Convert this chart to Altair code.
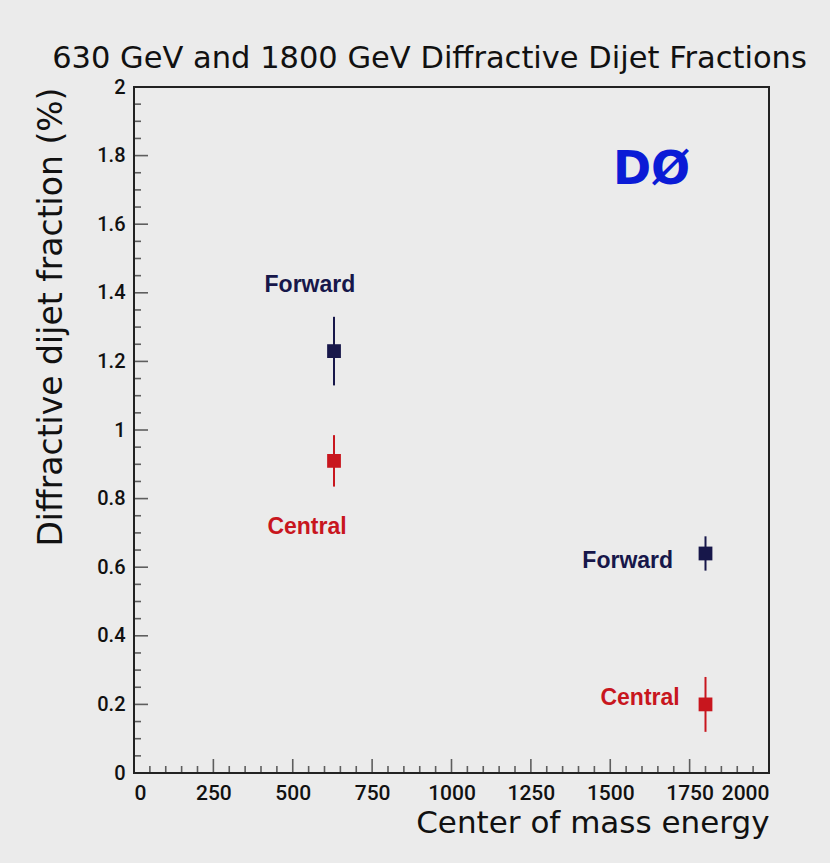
import altair as alt
import pandas as pd

# Measured diffractive dijet fractions (%) at two centre-of-mass energies
energy = [630, 630, 1800, 1800]
region = ["Forward", "Central", "Forward", "Central"]
fraction = [1.23, 0.91, 0.64, 0.20]
error = [0.10, 0.075, 0.05, 0.08]

# Text annotations naming each point (data coordinates)
label_text = ["Forward", "Central", "Forward", "Central"]
label_x = [554, 545, 1555, 1594]
label_y = [1.423, 0.717, 0.618, 0.218]

# Axis tick values
x_major = list(range(0, 2001, 250))
x_minor = [v for v in range(0, 2001, 50) if v % 250 != 0]
y_major = [round(i * 0.2, 2) for i in range(11)]
y_minor = [round(i * 0.05, 2) for i in range(41) if i % 4 != 0]

colors_domain = ["Forward", "Central"]
colors_range = ["#17174a", "#c8161e"]
FONT = "DejaVu Sans"
NUM_FONT = "Roboto"

points = pd.DataFrame({
    "energy": energy,
    "region": region,
    "fraction": fraction,
    "lower": [f - e for f, e in zip(fraction, error)],
    "upper": [f + e for f, e in zip(fraction, error)],
})
labels = pd.DataFrame({"text": label_text, "x": label_x, "y": label_y, "region": label_text})

x_scale = alt.Scale(domain=[0, 2000], nice=False, zero=False)
y_scale = alt.Scale(domain=[0, 2], nice=False, zero=False)
color = alt.Color("region:N", scale=alt.Scale(domain=colors_domain, range=colors_range), legend=None)

x_axis = alt.Axis(
    values=x_major, ticks=False, domain=False, grid=False, format="d", labelOverlap=False,
    labelFontSize=21, labelFont=NUM_FONT, labelFontWeight=500, labelColor="#111", labelPadding=9,
    title="Center of mass energy", titleFontSize=31, titleFont=FONT,
    titleFontWeight="normal", titleAnchor="end", titlePadding=5, titleColor="#111",
)
y_axis = alt.Axis(
    values=y_major, ticks=False, domain=False, grid=False, format="~g",
    labelFontSize=20, labelFont=NUM_FONT, labelFontWeight=500, labelColor="#111", labelPadding=9,
    title="Diffractive dijet fraction (%)", titleFontSize=33, titleFont=FONT,
    titleFontWeight="normal", titleAnchor="end", titlePadding=28, titleColor="#111",
)

base_x = alt.X("energy:Q", scale=x_scale, axis=x_axis)
base_y = alt.Y("fraction:Q", scale=y_scale, axis=y_axis)

errbars = alt.Chart(points).mark_rule(strokeWidth=2).encode(
    x=base_x, y=alt.Y("lower:Q", scale=y_scale, axis=y_axis), y2="upper:Q", color=color
)
squares = alt.Chart(points).mark_square(size=190, opacity=1, filled=True).encode(
    x=base_x, y=base_y, color=color
)
texts = alt.Chart(labels).mark_text(fontSize=23, font="Liberation Sans", fontWeight="bold").encode(
    x=alt.X("x:Q", scale=x_scale), y=alt.Y("y:Q", scale=y_scale), text="text:N", color=color
)
logo = alt.Chart(pd.DataFrame({"t": ["DØ"], "x": [1630], "y": [1.758]})).mark_text(
    fontSize=46, font="DejaVu Sans", fontWeight="bold", color="#0b1bd6"
).encode(x=alt.X("x:Q", scale=x_scale), y=alt.Y("y:Q", scale=y_scale), text="t:N")

# Inward-pointing ticks on the bottom and left edges
def xticks(vals, length):
    return alt.Chart(pd.DataFrame({"v": vals})).mark_tick(
        orient="vertical", size=length, thickness=1.6, color="#222", yOffset=-length / 2
    ).encode(x=alt.X("v:Q", scale=x_scale), y=alt.Y(datum=0, scale=y_scale))

def yticks(vals, length):
    return alt.Chart(pd.DataFrame({"v": vals})).mark_tick(
        orient="horizontal", size=length, thickness=1.6, color="#222", xOffset=length / 2
    ).encode(y=alt.Y("v:Q", scale=y_scale), x=alt.X(datum=0, scale=x_scale))

chart = alt.layer(
    xticks(x_major, 14), xticks(x_minor, 7), yticks(y_major, 14), yticks(y_minor, 7),
    errbars, squares, texts, logo,
).properties(
    width=635, height=686,
    title=alt.TitleParams(
        "630 GeV and 1800 GeV Diffractive Dijet Fractions",
        fontSize=30.5, font=FONT, fontWeight="normal", color="#111",
        anchor="middle", dx=-22, offset=3,
    ),
    autosize=alt.AutoSizeParams(type="none"),
    padding={"left": 134, "top": 87, "right": 61, "bottom": 90},
    background="#ebebeb",
).configure_view(stroke="#222", strokeWidth=2)

chart.save("out.html", embed_options={"renderer": "svg", "actions": False})
